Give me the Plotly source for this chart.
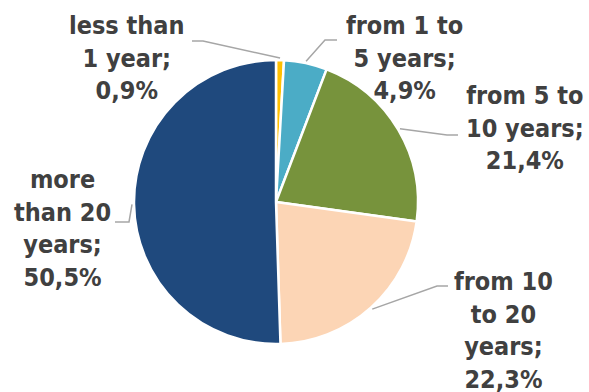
import math
import plotly.graph_objects as go

# ---- data ----
categories = ["less than 1 year", "from 1 to 5 years", "from 5 to 10 years",
              "from 10 to 20 years", "more than 20 years"]
values = [0.9, 4.9, 21.4, 22.3, 50.5]
label_texts = ["less than<br>1 year;<br>0,9%",
               "from 1 to<br>5 years;<br>4,9%",
               "from 5 to<br>10 years;<br>21,4%",
               "from 10<br>to 20<br>years;<br>22,3%",
               "more<br>than 20<br>years;<br>50,5%"]
colors = ["#FFC000", "#4BACC6", "#77933C", "#FCD5B5", "#1F497D"]

# ---- layout (pixels) ----
W, H = 589, 392
CX, CY, R = 276, 202, 142
label_pos = [(127, 58), (404, 58), (525, 128), (503, 330), (62, 229)]
elbows = [(203, 41), (325, 40), (447, 135), (437, 286), (129, 222)]
ends = [(192, 41), (337, 40), (458, 135), (448, 286), (115, 222)]


def px(x):
    return x / W


def py(y):
    return 1 - y / H


fig = go.Figure(go.Pie(
    labels=categories, values=values, sort=False, direction="clockwise",
    rotation=0, marker=dict(colors=colors, line=dict(color="white", width=2.5)),
    textinfo="none", hoverinfo="label+percent", showlegend=False,
    domain=dict(x=[px(CX - R), px(CX + R)], y=[py(CY + R), py(CY - R)]),
))

total = sum(values)
cum = 0
shapes = []
annotations = []
for i, v in enumerate(values):
    mid = (cum + v / 2) / total
    cum += v
    th = 2 * math.pi * mid
    sx = CX + (R + 2) * math.sin(th)
    sy = CY - (R + 2) * math.cos(th)
    ex, ey = elbows[i]
    fx, fy = ends[i]
    path = f"M {px(sx)},{py(sy)} L {px(ex)},{py(ey)} L {px(fx)},{py(fy)}"
    shapes.append(dict(type="path", xref="paper", yref="paper", path=path,
                       line=dict(color="#A6A6A6", width=1.5)))
    lx, ly = label_pos[i]
    annotations.append(dict(x=px(lx), y=py(ly), xref="paper", yref="paper",
                            text=f"<b>{label_texts[i]}</b>", showarrow=False,
                            xanchor="center", yanchor="middle", align="center",
                            font=dict(family="DejaVu Sans Condensed, DejaVu Sans",
                                      size=25, color="#404040")))

fig.update_layout(width=W, height=H, margin=dict(l=0, r=0, t=0, b=0),
                  paper_bgcolor="white", plot_bgcolor="white",
                  shapes=shapes, annotations=annotations)
fig.write_html("out.html")
